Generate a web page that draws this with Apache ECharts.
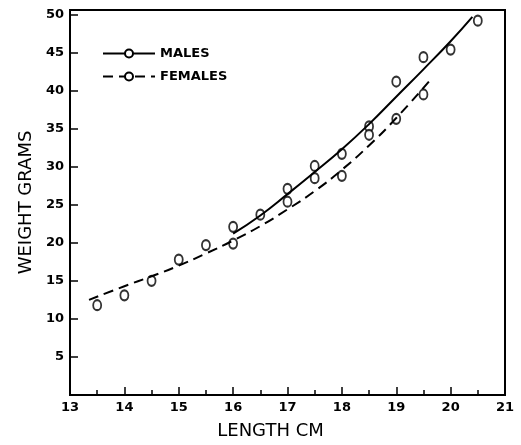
<!DOCTYPE html>
<html>
<head>
<meta charset="utf-8">
<script src="https://cdn.jsdelivr.net/npm/echarts@6/dist/echarts.min.js"></script>
<style>html,body{margin:0;padding:0;background:#fff;}#c{width:521px;height:445px;}</style>
</head>
<body>
<div id="c"></div>
<script>
// Observed points (length cm, weight g)
var maleX = [16.0, 16.5, 17.0, 17.5, 18.0, 18.5, 19.0, 19.5, 20.0, 20.5];
var maleY = [22.1, 23.7, 27.1, 30.1, 31.7, 35.3, 41.2, 44.4, 45.4, 49.2];
var femaleX = [13.5, 14.0, 14.5, 15.0, 15.5, 16.0, 17.0, 17.5, 18.0, 18.5, 19.0, 19.5];
var femaleY = [11.8, 13.1, 15.0, 17.8, 19.7, 19.9, 25.4, 28.5, 28.8, 34.2, 36.3, 39.5];
// Fitted curves
var maleFitX = [16.0, 16.5, 17.0, 17.5, 18.0, 18.5, 19.0, 19.5, 20.0, 20.4];
var maleFitY = [21.2, 23.6, 26.4, 29.3, 32.3, 35.6, 39.2, 42.8, 46.5, 49.7];
var femaleFitX = [13.35, 14.0, 14.5, 15.0, 15.5, 16.0, 16.5, 17.0, 17.5, 18.0, 18.5, 19.0, 19.6];
var femaleFitY = [12.5, 14.3, 15.6, 17.0, 18.6, 20.3, 22.2, 24.4, 26.8, 29.6, 32.8, 36.4, 41.2];
var xTicks = [13, 14, 15, 16, 17, 18, 19, 20, 21];
var yTicks = [5, 10, 15, 20, 25, 30, 35, 40, 45, 50];

function zip(a, b) { return a.map(function (v, i) { return [v, b[i]]; }); }

var chart = echarts.init(document.getElementById('c'), null, {renderer: 'canvas'});
var fontFam = 'DejaVu Sans, Liberation Sans, sans-serif';
var mark = {color: '#000', borderColor: '#000', borderWidth: 1.5};
chart.setOption({
  animation: false,
  backgroundColor: '#fff',
  grid: {left: 70, right: 16, top: 10, bottom: 48, show: true, borderColor: '#000', borderWidth: 2},
  legend: {
    data: ['MALES', 'FEMALES'],
    orient: 'vertical',
    left: 97, top: 42,
    itemWidth: 52, itemHeight: 10, itemGap: 10,
    textStyle: {fontFamily: fontFam, fontSize: 13, color: '#000', fontWeight: 'bold'}
  },
  xAxis: {
    type: 'value', min: 13, max: 21, interval: 1,
    name: 'LENGTH CM', nameLocation: 'middle', nameGap: 27,
    nameTextStyle: {fontFamily: fontFam, fontSize: 18, color: '#000', padding: [0, 34, 0, 0]},
    axisLine: {lineStyle: {color: '#000', width: 2}},
    axisTick: {inside: true, length: 8, lineStyle: {color: '#000', width: 1.5}},
    minorTick: {show: true, splitNumber: 2, length: 5, lineStyle: {color: '#000', width: 1.5}},
    axisLabel: {fontFamily: fontFam, fontSize: 13, color: '#000', fontWeight: 'bold', margin: 6},
    splitLine: {show: false}
  },
  yAxis: {
    type: 'value', min: 0, max: 50.6,
    name: 'WEIGHT GRAMS', nameLocation: 'middle', nameGap: 34, nameRotate: 90,
    nameTextStyle: {fontFamily: fontFam, fontSize: 18, color: '#000'},
    axisLine: {lineStyle: {color: '#000', width: 2}},
    axisTick: {inside: true, length: 8, customValues: yTicks, lineStyle: {color: '#000', width: 1.5}},
    axisLabel: {fontFamily: fontFam, fontSize: 13, color: '#000', fontWeight: 'bold', margin: 6, customValues: yTicks},
    splitLine: {show: false}
  },
  series: [
    {
      name: 'MALES', type: 'line', smooth: true, data: zip(maleFitX, maleFitY),
      symbol: 'emptyCircle', symbolSize: [8, 10], showSymbol: false,
      itemStyle: mark,
      lineStyle: {color: '#000', width: 2, type: 'solid'}
    },
    {
      name: 'FEMALES', type: 'line', smooth: true, data: zip(femaleFitX, femaleFitY),
      symbol: 'emptyCircle', symbolSize: [8, 10], showSymbol: false,
      itemStyle: mark,
      lineStyle: {color: '#000', width: 2, type: [10, 6]}
    },
    {
      name: 'MALES pts', type: 'scatter', data: zip(maleX, maleY),
      symbol: 'emptyCircle', symbolSize: [8, 10],
      itemStyle: mark
    },
    {
      name: 'FEMALES pts', type: 'scatter', data: zip(femaleX, femaleY),
      symbol: 'emptyCircle', symbolSize: [8, 10],
      itemStyle: mark
    }
  ]
});
</script>
</body>
</html>
